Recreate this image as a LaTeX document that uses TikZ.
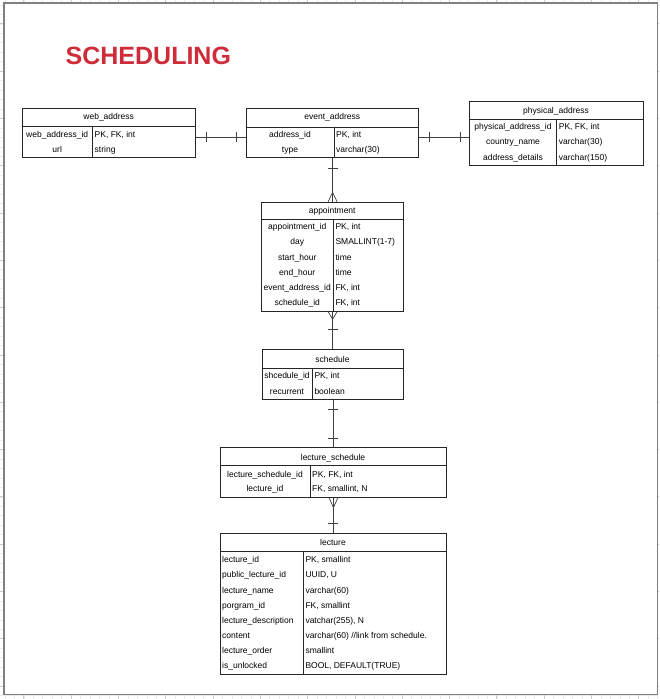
\documentclass[tikz,border=0pt]{standalone}
\usepackage{fontspec}
\setmainfont{Liberation Sans}
\usepackage{tikz}
\definecolor{titlered}{RGB}{207,44,58}
\definecolor{framegray}{RGB}{128,128,128}
\tikzset{font={\fontsize{8.5pt}{10}\selectfont},
  tline/.style={draw=black!85, line width=0.9pt},
  tbl/.style={tline, inner sep=0, anchor=north west},
  keycell/.style={anchor=mid, inner sep=0, yshift=-1.5pt},
  typecell/.style={anchor=mid west, inner sep=0, yshift=-1.5pt},
  conn/.style={draw=black!75, line width=0.7pt},
  gridminor/.style={draw=black!8, line width=0.4pt},
  gridmajor/.style={draw=black!20, line width=0.5pt}}

\begin{document}
\begin{tikzpicture}[x=1pt, y=-1pt]
      \useasboundingbox (0,0) rectangle (659,699);
      %page grid
      \foreach \g in {4.8,14.26,...,660}
	\draw[gridminor] (\g,0) -- (\g,699);
      \foreach \g in {4.8,14.26,...,700}
	\draw[gridminor] (0,\g) -- (659,\g);
      \foreach \g in {23.7,71,...,700}
	\draw[gridmajor] (\g,0) -- (\g,699) (0,\g) -- (659,\g);
      %page
      \fill[white] (4,3) rectangle (657.3,694.3);
      \draw[framegray, line width=1.5pt] (4,3) rectangle (657.3,694.3);
      %title
      \node[anchor=base west, inner sep=0, text=titlered, font={\fontsize{25pt}{29}\selectfont\bfseries}] (title) at (65.5,64.5) {SCHEDULING};

      %web_address
      \node[tbl, minimum width=173.3pt, minimum height=49pt] (web) at (22,108.3) {};
      \draw[tline] (22,126.7) -- (195.3,126.7) (92.3,126.7) -- (92.3,157.3);
      \node[keycell] at (108.7,115.7) {web\_address};
      \foreach \k/\t [count=\i] in {web\_address\_id/{PK, FK, int}, url/string} {
	\node[keycell] at (57.2,118.3+15*\i) {\k};
	\node[typecell] at (94.5,118.3+15*\i) {\t};
      }
      %event_address
      \node[tbl, minimum width=172.3pt, minimum height=49pt] (event) at (246,108.3) {};
      \draw[tline] (246,127) -- (418.3,127) (334,127) -- (334,157.3);
      \node[keycell] at (332.2,115.7) {event\_address};
      \foreach \k/\t [count=\i] in {address\_id/{PK, int}, type/varchar(30)} {
	\node[keycell] at (290,118.3+15*\i) {\k};
	\node[typecell] at (336,118.3+15*\i) {\t};
      }
      %physical_address
      \node[tbl, minimum width=173.4pt, minimum height=64pt] (phys) at (469.3,101) {};
      \draw[tline] (469.3,119) -- (642.7,119) (556.7,119) -- (556.7,165);
      \node[keycell] at (556,109) {physical\_address};
      \foreach \k/\t [count=\i] in {physical\_address\_id/{PK, FK, int}, country\_name/varchar(30), address\_details/varchar(150)} {
	\node[keycell] at (513,110.2+15.3*\i) {\k};
	\node[typecell] at (558.7,110.2+15.3*\i) {\t};
      }
      %appointment
      \node[tbl, minimum width=142.3pt, minimum height=109pt] (appt) at (261,201.7) {};
      \draw[tline] (261,219.3) -- (403.3,219.3) (333.3,219.3) -- (333.3,310.7);
      \node[keycell] at (332.2,209) {appointment};
      \foreach \k/\t [count=\i] in {appointment\_id/{PK, int}, day/SMALLINT(1-7), start\_hour/time, end\_hour/time, event\_address\_id/{FK, int}, schedule\_id/{FK, int}} {
	\node[keycell] at (297.2,210+15.3*\i) {\k};
	\node[typecell] at (335.3,210+15.3*\i) {\t};
      }
      %schedule
      \node[tbl, minimum width=141.6pt, minimum height=49.7pt] (sched) at (261.7,349.3) {};
      \draw[tline] (261.7,368.3) -- (403.3,368.3) (312.3,368.3) -- (312.3,399);
      \node[keycell] at (332.5,358.3) {schedule};
      \foreach \k/\t [count=\i] in {shcedule\_id/{PK, int}, recurrent/boolean} {
	\node[keycell] at (287,359.1+15.6*\i) {\k};
	\node[typecell] at (314.3,359.1+15.6*\i) {\t};
      }
      %lecture_schedule
      \node[tbl, minimum width=226pt, minimum height=49.4pt] (lsched) at (220,447.3) {};
      \draw[tline] (220,465) -- (446,465) (310,465) -- (310,496.7);
      \node[keycell] at (333,456.7) {lecture\_schedule};
      \foreach \k/\t [count=\i] in {lecture\_schedule\_id/{PK, FK, int}, lecture\_id/{FK, smallint, N}} {
	\node[keycell] at (265,458.9+14.4*\i) {\k};
	\node[typecell] at (312,458.9+14.4*\i) {\t};
      }
      %lecture
      \node[tbl, minimum width=226pt, minimum height=140.7pt] (lect) at (220,533.3) {};
      \draw[tline] (220,551.5) -- (446,551.5) (303.3,551.5) -- (303.3,674);
      \node[keycell] at (333,541.7) {lecture};
      \foreach \k/\t [count=\i] in {lecture\_id/{PK, smallint}, public\_lecture\_id/{UUID, U}, lecture\_name/varchar(60), porgram\_id/{FK, smallint}, lecture\_description/{vatchar(255), N}, content/{varchar(60) //link from schedule.}, lecture\_order/smallint, is\_unlocked/{BOOL, DEFAULT(TRUE)}} {
	\node[typecell] at (222,543.6+15.1*\i) {\k};
	\node[typecell] at (305.3,543.6+15.1*\i) {\t};
      }

      %web_address -- event_address
      \draw[conn] ([yshift=-4.2pt]web.east) coordinate (w1) -- (w1 -| event.west) coordinate (w2);
      \draw[conn] ([xshift=9.7pt]w1) ++(0,-5) -- ++(0,10) ([xshift=-10pt]w2) ++(0,-5) -- ++(0,10);
      %event_address -- physical_address
      \draw[conn] ([yshift=-4.2pt]event.east) coordinate (p1) -- (p1 -| phys.west) coordinate (p2);
      \draw[conn] ([xshift=9.7pt]p1) ++(0,-5) -- ++(0,10) ([xshift=-9.3pt]p2) ++(0,-5) -- ++(0,10);
      %event_address -- appointment
      \draw[conn] (event.south) coordinate (e1) -- (e1 |- appt.north) coordinate (e2);
      \draw[conn] ([yshift=-10pt]e1) ++(-5,0) -- ++(10,0);
      \draw[conn] ([yshift=9.3pt]e2) -- ++(-4.5,9.3) ([yshift=9.3pt]e2) -- ++(4.5,9.3);
      %appointment -- schedule
      \draw[conn] (appt.south) coordinate (a1) -- (a1 |- sched.north) coordinate (a2);
      \draw[conn] ([yshift=-7.6pt]a1) -- ++(-4.5,-7.6) ([yshift=-7.6pt]a1) -- ++(4.5,-7.6);
      \draw[conn] ([yshift=20pt]a2) ++(-5,0) -- ++(10,0);
      %schedule -- lecture_schedule
      \draw[conn] (sched.south) coordinate (s1) -- (s1 |- lsched.north) coordinate (s2);
      \draw[conn] ([yshift=-9.3pt]s1) ++(-5,0) -- ++(10,0) ([yshift=8.6pt]s2) ++(-5,0) -- ++(10,0);
      %lecture_schedule -- lecture
      \draw[conn] (lsched.south) coordinate (l1) -- (l1 |- lect.north) coordinate (l2);
      \draw[conn] ([yshift=-10pt]l1) -- ++(-4.5,-10) ([yshift=-10pt]l1) -- ++(4.5,-10);
      \draw[conn] ([yshift=10pt]l2) ++(-5,0) -- ++(10,0);
    \end{tikzpicture}
\end{document}
